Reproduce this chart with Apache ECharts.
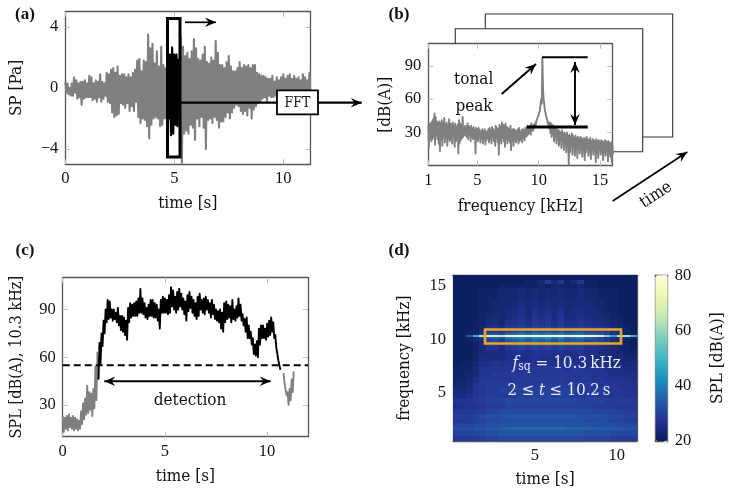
<!DOCTYPE html>
<html><head><meta charset="utf-8">
<style>html,body{margin:0;padding:0;background:#fff}#c{width:747px;height:496px}</style>
<script src="https://cdn.jsdelivr.net/npm/echarts@6/dist/echarts.min.js"></script></head>
<body><div id="c"></div>
<script>
// ---- (a) sound pressure, envelopes read every 0.1 s from 0 s
const spUpper=[.4,.3,0,.3,.7,.5,.3,.4,.4,.5,.3,.8,.7,.3,.5,.4,.9,.4,.3,1,.9,1.2,1.3,1,1.4,.8,.9,.9,.7,.9,.7,1,1.2,1.8,1.9,1.1,1.8,1.7,3.5,2.6,2.9,1.6,2.4,1.4,2.7,1.5,1.3,1.5,2.2,2.65,2.2,2.2,1.9,3.3,2.7,2.1,2.3,1.9,2.4,3.2,2.6,1.9,1.8,2.2,2.7,1.7,1.6,2,1.8,3.1,2.3,1.5,1.5,1.3,1.7,2.1,1.4,1.1,1.1,1.3,1.7,1.3,1.5,1.4,1.5,1.3,1.5,1.5,1,.9,.8,.8,.7,.6,.6,.8,.4,.7,.5,.7,.9,.6,.8,.9,.6,.8,.6,.7,.5,.9,.7,.5,1];
const spLower=[-.3,-.4,-.5,-.5,-.3,-.7,-.6,-1.1,-.7,-.6,-.6,-.6,-.8,-.7,-.9,-.6,-.9,-.7,-.5,-.9,-1,-1.6,-1.9,-1.8,-1.7,-1,-1.1,-1.3,-1,-1.5,-1.2,-1.5,-.9,-1.9,-2.3,-2,-2.1,-2.5,-3.3,-2.4,-2,-1.9,-2,-2.5,-2.4,-2,-2,-2,-3.1,-3,-2.4,-2.5,-2.2,-4.9,-3,-2.8,-3,-2.4,-2.6,-3.4,-2,-2.5,-1.9,-2.6,-4,-2.1,-2,-2.3,-1.9,-2.1,-2.6,-2.2,-2.2,-1.9,-1.6,-2,-1.6,-1.3,-1.1,-1.2,-1.5,-1.7,-1.5,-1.8,-1.3,-2,-1.4,-1.2,-1,-.9,-.7,-.6,-.9,-.5,-.6,-.6,-.5,-.6,-.5,-.5,-.5,-.5,-.5,-.5,-.5,-.5,-.5,-.5,-.5,-.5,-.5,-.5,-.5];
// ---- (b) spectrum, envelopes read every 0.1 kHz from 1 kHz
const specUpper=[36,38,38,40,42,47,44,40,38,40,38,41,38,43,37,39,36,42,38,37,39,36,38,35,37,41,38,36,44,33,36,35,38,36,34,36,33,35,32,34,33,34,32,30,33,31,33,30,31,33,34,32,35,33,31,36,34,33,37,35,39,37,36,38,35,34,33,36,32,33,33,32,31,33,34,30,32,33,32,34,34,36,33,36,38,36,37,38,40,43,46,50,60,97,60,50,45,42,40,39,38,37,36,35,34,33,32,31,30,32,29,30,28,30,27,28,26,29,27,25,27,25,26,24,26,25,23,25,24,26,24,23,25,22,24,23,22,24,22,23,21,23,22,21,23,22,21,22,20,21,20];
const specLower=[17,25,22,24,26,19,28,24,20,13,24,18,26,21,25,18,25,22,24,20,27,17,22,24,11,20,23,25,26,28,27,26,24,28,22,26,24,25,11,24,22,26,21,25,20,24,19,23,25,21,24,20,26,22,18,25,21,10,23,20,25,22,17,24,20,23,21,14,22,18,23,21,24,20,22,24,21,25,23,26,27,28,30,28,31,32,34,36,39,42,45,49,56,70,56,48,43,39,34,30,26,28,22,27,20,25,18,24,16,22,14,20,12,18,1,12,19,10,17,9,16,7,15,11,18,8,14,5,12,16,9,13,6,17,10,14,3,12,7,15,10,13,5,12,9,14,4,11,8,3,10];
// ---- (c) SPL at 10.3 kHz, envelopes read every 0.1 s from 0 s
const splUpper=[23,22,23,24,22,23,22,21,20,26,31,34,42,38,37,40,54,63,69,75,83,90,96,95,90,90,88,91,86,86,85,83,91,94,93,94,95,97,103,97,94,91,93,96,96,94,93,90,96,98,97,96,99,104,102,98,101,103,100,97,95,99,101,98,96,94,98,100,96,97,98,96,94,96,93,90,89,90,88,94,95,93,92,96,90,92,97,93,87,84,85,80,76,72,68,70,78,80,80,78,81,83,85,82,74,66,58,null,50,44,38,40,46,51];
const splLower=[13,15,14,16,15,14,15,14,15,18,21,24,25,27,23,28,33,46,56,67,75,82,84,85,83,84,82,80,77,76,74,71,82,85,86,86,86,88,88,87,85,84,86,86,85,85,83,78,88,88,88,87,88,92,90,88,90,92,90,87,83,89,91,88,86,84,86,90,88,87,90,88,85,87,84,83,82,78,76,82,84,85,82,84,83,85,86,83,80,76,72,72,68,62,61,60,68,72,72,71,73,74,76,72,66,58,52,null,44,36,30,33,38,42];
const splThreshold=55;
// ---- (d) spectrogram, hand-read levels: rows top to bottom, columns every 0.4 s
const specEdges=[16,15.6,15.2,14.8,14.2,13.6,13,12.4,11.8,11.3,10.9,10.6,10.38,10.2,10,9.7,9.4,9,8.5,8,7.5,7,6.5,6,5.5,5,4.5,4,3.5,3,2.6,2.2,1.8,1.5,1,.5];
const specLevels=[
[21,21,21,21,21,21,21,21,21,21,21,21,21,21,21,21,21,21,21,21,21,21,21,21,21,21,21,21],
[21,21,21,21,21,21,21,21,21,21,21,22,22,24,28,24,28,22,24,28,22,22,21,21,21,21,21,21],
[21,21,21,21,21,21,21,22,22,22,22,22,22,23,22,23,23,22,22,23,22,22,21,21,21,21,21,21],
[21,21,21,21,22,22,22,23,23,23,24,23,24,23,24,23,24,23,23,24,23,23,22,22,22,21,21,21],
[21,21,21,21,22,22,22,23,23,23,24,23,24,23,24,24,24,23,23,24,23,23,22,22,22,21,21,21],
[21,21,21,21,22,22,23,23,23,24,25,24,25,24,25,24,25,24,24,24,24,23,23,22,22,21,21,21],
[21,21,21,21,22,22,23,23,24,25,26,24,26,25,26,25,26,24,25,25,24,24,23,22,22,21,21,21],
[21,21,21,21,22,23,24,23,24,26,27,25,27,26,27,25,27,25,25,26,25,24,24,23,22,22,21,21],
[21,21,21,22,22,24,25,23,26,27,28,26,28,27,28,26,28,26,26,27,26,25,25,24,23,22,21,21],
[21,21,21,22,23,26,27,25,28,29,30,28,31,29,31,28,31,28,29,30,28,28,27,27,24,23,22,21],
[21,21,21,22,24,28,29,27,30,31,33,30,33,31,33,30,33,30,31,32,30,30,29,29,25,24,22,21],
[21,21,22,23,26,32,33,31,36,37,40,37,40,38,40,38,40,36,37,38,35,34,33,30,26,25,22,21],
[21,22,34,48,64,70,68,66,74,77,79,76,80,77,79,77,80,76,77,79,76,76,70,58,46,64,62,48],
[21,21,22,24,28,34,36,33,38,40,42,38,42,40,42,38,42,36,38,40,36,34,31,28,25,27,24,22],
[21,21,21,23,25,30,31,28,33,34,36,33,36,34,36,32,36,32,33,34,31,31,30,28,25,24,22,21],
[21,21,21,22,24,28,28,26,30,31,33,30,33,31,33,30,33,30,30,31,29,29,28,27,25,24,22,21],
[21,21,21,22,24,27,27,25,28,29,30,28,30,29,30,28,30,28,28,29,27,27,26,25,24,23,22,21],
[21,21,21,22,24,25,25,25,26,27,27,26,27,27,27,26,27,26,26,27,26,26,25,25,24,23,22,22],
[21,21,21,22,25,25,25,25,26,26,26,26,27,26,26,26,26,26,26,26,26,25,25,25,24,24,23,23],
[21,22,22,23,26,26,27,26,27,27,27,27,27,27,27,27,27,27,27,27,26,26,26,26,25,25,24,25],
[22,22,22,24,27,27,27,27,27,28,27,28,28,28,28,28,28,27,28,28,27,27,27,26,26,26,25,25],
[22,22,23,24,27,27,28,28,28,28,28,28,28,28,28,28,28,28,28,28,28,27,27,27,26,26,26,26],
[22,22,23,26,28,28,28,28,28,29,29,29,29,29,29,29,29,28,28,29,28,28,28,27,27,27,26,26],
[23,23,24,27,28,29,29,29,29,29,29,29,29,29,29,29,29,29,29,29,29,28,28,28,28,27,27,27],
[24,24,25,27,28,29,29,30,29,30,30,30,30,30,30,30,30,30,30,29,29,29,29,28,28,28,27,27],
[25,25,26,27,28,29,29,29,29,30,30,30,30,30,30,29,30,29,29,29,29,29,28,28,28,28,27,27],
[27,27,27,28,29,30,30,30,31,31,31,31,31,31,31,31,31,31,31,30,30,30,30,29,29,29,29,28],
[26,26,27,27,28,29,29,29,30,30,30,30,30,30,30,30,30,30,30,30,30,29,29,29,29,28,28,28],
[28,28,28,29,29,30,30,31,31,31,31,31,31,31,31,31,31,31,31,31,31,30,30,30,30,30,29,29],
[29,29,29,30,31,32,32,32,33,33,33,33,33,33,33,33,33,33,33,32,32,32,32,31,31,31,30,30],
[28,28,29,30,30,31,31,32,32,32,32,32,32,32,32,32,32,32,32,32,31,31,31,31,30,30,30,29],
[30,30,30,31,31,32,32,33,33,33,33,33,33,33,33,33,33,33,33,33,33,32,32,32,32,31,31,31],
[32,32,32,33,33,34,34,35,36,36,37,36,37,36,37,36,37,36,36,36,35,35,35,34,34,34,33,33],
[30,30,30,31,31,32,32,33,33,33,33,33,33,33,33,33,33,33,33,33,32,32,32,32,31,31,31,31],
[28,28,28,29,29,30,30,31,31,31,31,31,31,31,31,31,31,31,31,31,30,30,30,30,29,29,29,29]];
const specColStep=0.4, recordEnd=11.24;
const colormap=['#081d58','#253494','#225ea8','#1d91c0','#41b6c4','#7fcdbb','#c7e9b4','#edf8b1','#ffffd9'];
// ---- tick labels
const ticksA={x:[0,5,10],y:[-4,0,4]}, ticksB={x:[1,5,10,15],y:[30,60,90]};
const ticksC={x:[0,5,10],y:[30,60,90]}, ticksD={x:[5,10],y:[5,10,15]}, ticksBar=[20,40,60,80];

const FONT='"DejaVu Serif Condensed","DejaVu Serif"', FS=17, NUMFONT='Liberation Serif', NUMFS=16.5, BORDER='#555', TICK='#bbb';
const zig=(start,step,hi,lo)=>{const o=[];hi.forEach((h,i)=>{const t=+(start+i*step).toFixed(3);
  if(h==null){o.push([t,null]);return;} o.push([t,h]);o.push([+(t+step/2).toFixed(3),lo[i]]);});return o;};
const waveAll=zig(0,.1,spUpper,spLower), specAll=zig(1,.1,specUpper,specLower), splAll=zig(0,.1,splUpper,splLower);
const between=(d,a,b)=>d.filter(p=>p[0]>=a&&p[0]<=b);
const gridRects=[];
specLevels.forEach((row,r)=>row.forEach((v,c)=>gridRects.push([c*specColStep,c===row.length-1?recordEnd:(c+1)*specColStep,specEdges[r+1],specEdges[r],v])));

const grids=[
 {left:65.3,top:11.7,width:245,height:152.6},
 {left:428.3,top:43.7,width:184,height:122,backgroundColor:'#fff',show:true,borderWidth:0},
 {left:62.7,top:277.7,width:245.3,height:159},
 {left:453,top:275.3,width:184,height:165.7},
 {left:655.3,top:275.3,width:12.4,height:165.7}];
const mkX=(g,min,max,ticks,extra={})=>[
 Object.assign({type:'value',gridIndex:g,min,max,position:'bottom',splitLine:{show:false},
  axisLine:{show:true,onZero:false,lineStyle:{color:BORDER,width:1.3}},
  axisTick:{show:true,inside:true,length:5,customValues:ticks,lineStyle:{color:TICK,width:1}},
  axisLabel:{show:true,customValues:ticks,margin:6,color:'#111',fontFamily:NUMFONT,fontSize:NUMFS,showMinLabel:true,showMaxLabel:true},
  nameLocation:'middle',nameGap:32,nameTextStyle:{color:'#111',fontFamily:FONT,fontSize:FS}},extra),
 {type:'value',gridIndex:g,min,max,position:'top',splitLine:{show:false},
  axisLine:{show:true,onZero:false,lineStyle:{color:BORDER,width:1.3}},
  axisTick:{show:true,inside:true,length:5,customValues:ticks,lineStyle:{color:TICK,width:1}},axisLabel:{show:false}}];
const mkY=(g,min,max,ticks,name,gap,extra={})=>[
 Object.assign({type:'value',gridIndex:g,min,max,position:'left',splitLine:{show:false},name,
  axisLine:{show:true,onZero:false,lineStyle:{color:BORDER,width:1.3}},
  axisTick:{show:true,inside:true,length:5,customValues:ticks,lineStyle:{color:TICK,width:1}},
  axisLabel:{show:true,customValues:ticks,margin:7,color:'#111',fontFamily:NUMFONT,fontSize:NUMFS,
   formatter:v=>String(v).replace('-','\u2212')},
  nameLocation:'middle',nameGap:gap,nameRotate:90,nameTextStyle:{color:'#111',fontFamily:FONT,fontSize:FS}},extra),
 {type:'value',gridIndex:g,min,max,position:'right',splitLine:{show:false},
  axisLine:{show:true,onZero:false,lineStyle:{color:BORDER,width:1.3}},
  axisTick:{show:true,inside:true,length:5,customValues:ticks,lineStyle:{color:TICK,width:1}},axisLabel:{show:false}}];

const xAxis=[...mkX(0,0,11.24,ticksA.x,{name:'time [s]',nameGap:31}),...mkX(1,1,16,ticksB.x,{name:'frequency [kHz]',nameGap:32}),
 ...mkX(2,0,12,ticksC.x,{name:'time [s]',nameGap:31}),...mkX(3,0,11.24,ticksD.x,{name:'time [s]',nameGap:30}),
 ...mkX(4,0,1,[])];
const yAxis=[...mkY(0,-5,5,ticksA.y,'SP [Pa]',40),...mkY(1,0,110,ticksB.y,'[dB(A)]',34),
 ...mkY(2,10,110,ticksC.y,'SPL [dB(A), 10.3 kHz]',38,{nameTextStyle:{color:'#111',fontFamily:FONT,fontSize:16.2}}),...mkY(3,.5,16,ticksD.y,'frequency [kHz]',40),
 ...mkY(4,20,80,[],'',0)];
Object.assign(yAxis[9],{axisTick:{show:true,inside:true,length:4,customValues:ticksBar,lineStyle:{color:TICK,width:1}},
 axisLabel:{show:true,customValues:ticksBar,margin:7,color:'#111',fontFamily:NUMFONT,fontSize:NUMFS},
 name:'SPL [dB(A)]',nameLocation:'middle',nameGap:41,nameRotate:90,nameTextStyle:{color:'#111',fontFamily:FONT,fontSize:FS}});

const line=(x,y,data,color,width,extra={})=>Object.assign({type:'line',xAxisIndex:x,yAxisIndex:y,data,showSymbol:false,symbol:'none',
 animation:false,silent:true,connectNulls:false,lineStyle:{color,width,join:'round'},z:3},extra);

const series=[
 line(0,0,waveAll,'#808080',2.1),
 line(0,0,between(waveAll,4.7,5.2),'#000',2.1,{z:4}),
 line(2,2,specAll,'#808080',1.9),
 line(4,4,between(splAll,0,1.75),'#808080',1.9),
 line(4,4,between(splAll,1.75,10.65),'#000',1.9,{z:4}),
 line(4,4,between(splAll,10.75,11.3),'#808080',1.9),
 line(4,4,[[0,splThreshold],[12,splThreshold]],'#000',2,{z:5,lineStyle:{color:'#000',width:2,type:[7,4]}}),
 {type:'custom',xAxisIndex:6,yAxisIndex:6,data:gridRects,animation:false,silent:true,z:1,
  encode:{x:[0,1],y:[2,3]},
  renderItem(params,api){
   const a=api.coord([api.value(0),api.value(3)]), b=api.coord([api.value(1),api.value(2)]);
   const col=api.visual('color'), x0=Math.round(a[0]), y0=Math.round(a[1]), x1=Math.round(b[0]), y1=Math.round(b[1]);
   return {type:'rect',shape:{x:x0,y:y0,width:x1-x0,height:y1-y0},style:{fill:col}};
  }}
];

function arrow(x1,y1,x2,y2,w,both,head=11,hw=4.8){
 const out=[{type:'line',shape:{x1,y1,x2,y2},style:{stroke:'#000',lineWidth:w},z:20,silent:true}];
 const h=(tx,ty,fx,fy)=>{const L=Math.hypot(tx-fx,ty-fy),ux=(tx-fx)/L,uy=(ty-fy)/L,px=-uy,py=ux;
  out.push({type:'polygon',shape:{points:[[tx,ty],[tx-ux*head+px*hw,ty-uy*head+py*hw],[tx-ux*head*.65,ty-uy*head*.65],[tx-ux*head-px*hw,ty-uy*head-py*hw]]},style:{fill:'#000'},z:21,silent:true});};
 h(x2,y2,x1,y1); if(both)h(x1,y1,x2,y2);
 return out;}
const txt=(x,y,text,o={})=>({type:'text',x,y,z:25,silent:true,rotation:o.rotation||0,
 style:Object.assign({text,fontFamily:FONT,fontSize:FS,fill:'#111',align:'center',verticalAlign:'middle'},o.style||{})});
const seg=(x1,y1,x2,y2,w,c='#000')=>({type:'line',shape:{x1,y1,x2,y2},style:{stroke:c,lineWidth:w},z:20,silent:true});
const poly=(pts)=>({type:'polyline',shape:{points:pts},style:{stroke:'#333',lineWidth:1.1,fill:null},z:1,silent:true});
const BOLD={fontWeight:'bold',fontFamily:'Liberation Serif',fontSize:17};

const graphicEls=[
 txt(25,15,'(a)',{style:BOLD}),txt(399,15,'(b)',{style:BOLD}),
 txt(25,251,'(c)',{style:BOLD}),txt(399,251,'(d)',{style:BOLD}),
 {type:'rect',shape:{x:167.5,y:18.5,width:12.5,height:138.5},style:{stroke:'#000',lineWidth:3,fill:null},z:20,silent:true},
 ...arrow(185,22.3,216,22.3,1.7,false),
 ...arrow(180,102.7,361.7,102.7,2.2,false),
 {type:'rect',shape:{x:277,y:90.3,width:41,height:24},style:{stroke:'#000',lineWidth:1.8,fill:'#fff'},z:22,silent:true},
 txt(297.5,103,'FFT',{style:{fontSize:14}}),
 poly([[455.3,43.7],[455.3,28.7],[642.7,28.7],[642.7,151.7],[612.3,151.7]]),
 poly([[485.3,28.7],[485.3,14],[672.7,14],[672.7,137],[642.7,137]]),
 txt(473.7,80,'tonal'),txt(474,107,'peak'),
 seg(542,57.3,587.7,57.3,2),seg(526.7,127,587.7,127,3),
 ...arrow(575,125,575,62,1.9,true),
 ...arrow(501.7,94,536,64,2,false),
 ...arrow(612.7,201,687.3,152,1.7,false),
 txt(656,195,'time',{rotation:33*Math.PI/180}),
 ...arrow(104.3,381.3,270.7,381.3,1.9,true),
 txt(190,401,'detection'),
 {type:'rect',shape:{x:485,y:329.5,width:136,height:14},style:{stroke:'#eaa821',lineWidth:2.6,fill:null},z:20,silent:true},
 {type:'text',x:566.7,y:364,z:25,silent:true,style:{rich:{
   i:{fontFamily:FONT,fontStyle:'italic',fontSize:FS,fill:'#e6ecf8'},
   s:{fontFamily:FONT,fontSize:12,fill:'#e6ecf8',verticalAlign:'bottom',lineHeight:12},
   r:{fontFamily:FONT,fontSize:FS,fill:'#e6ecf8'}},
   text:'{i|f}{s|sq}{r| = 10.3\u2009kHz}',align:'center',verticalAlign:'middle'}},
 {type:'text',x:559,y:390.7,z:25,silent:true,style:{rich:{
   i:{fontFamily:FONT,fontStyle:'italic',fontSize:16.5,fill:'#e6ecf8'},
   r:{fontFamily:FONT,fontSize:16.5,fill:'#e6ecf8'}},
   text:'{r|2 \u2264 }{i|t}{r| \u2264 10.2\u2009s}',align:'center',verticalAlign:'middle'}}
];

const chart=echarts.init(document.getElementById('c'),null,{renderer:'canvas'});
chart.setOption({animation:false,backgroundColor:'#fff',grid:grids,xAxis,yAxis,series,
 visualMap:{type:'continuous',seriesIndex:7,dimension:4,min:20,max:80,inRange:{color:colormap},
  calculable:false,realtime:false,showLabel:false,text:null,left:655.3,top:275.3,itemWidth:12.4,itemHeight:165.7,padding:0,orient:'vertical'},
 graphic:{elements:graphicEls}});
</script></body></html>
